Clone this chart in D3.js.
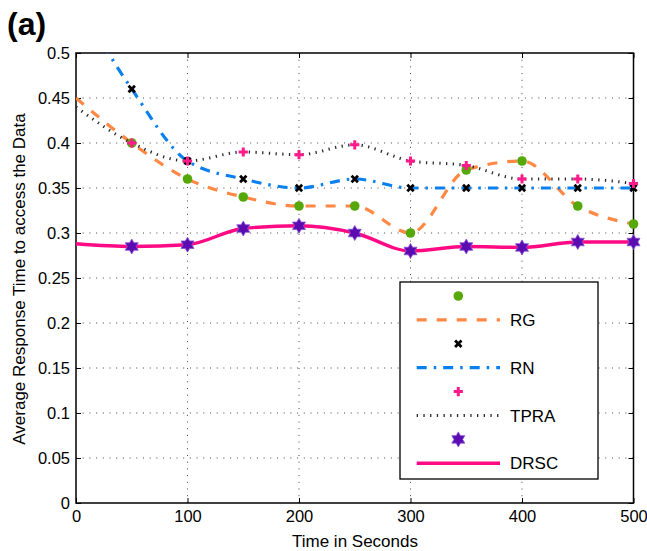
<!DOCTYPE html>
<html>
<head>
<meta charset="utf-8">
<script src="https://cdn.jsdelivr.net/npm/d3@7"></script>
<style>
  body { margin: 0; background: #fff; }
  svg text { font-family: "Liberation Sans", Arial, Helvetica, sans-serif; fill: #000; }
</style>
</head>
<body>
<script>
// data
let times = [0, 50, 100, 150, 200, 250, 300, 350, 400, 450, 500];
let rgValues = [0.45, 0.40, 0.36, 0.34, 0.33, 0.33, 0.30, 0.37, 0.38, 0.33, 0.31];
let rnValues = [0.56, 0.46, 0.38, 0.36, 0.35, 0.36, 0.35, 0.35, 0.35, 0.35, 0.35];
let tpraValues = [0.44, 0.40, 0.38, 0.39, 0.387, 0.398, 0.38, 0.375, 0.36, 0.36, 0.355];
let drscValues = [0.288, 0.285, 0.287, 0.305, 0.308, 0.30, 0.28, 0.285, 0.284, 0.29, 0.29];
let xTicks = [0, 100, 200, 300, 400, 500];
let yTicks = [0, 0.05, 0.1, 0.15, 0.2, 0.25, 0.3, 0.35, 0.4, 0.45, 0.5];
let seriesNames = ["RG", "RN", "TPRA", "DRSC"];

let width = 647, height = 551;
let plotLeft = 76, plotRight = 633.5, plotTop = 53, plotBottom = 503;

let svg = d3.select("body").append("svg")
    .attr("width", width)
    .attr("height", height);

let x = d3.scaleLinear().domain([0, 500]).range([plotLeft, plotRight]);
let y = d3.scaleLinear().domain([0, 0.5]).range([plotBottom, plotTop]);

svg.append("defs").append("clipPath")
    .attr("id", "plot-clip")
  .append("rect")
    .attr("x", plotLeft).attr("y", plotTop)
    .attr("width", plotRight - plotLeft).attr("height", plotBottom - plotTop);

// grid
let grid = svg.append("g").attr("class", "grid")
    .attr("stroke", "#444").attr("stroke-width", 1)
    .attr("stroke-dasharray", "1,5.7");
grid.selectAll("line.gx")
    .data(xTicks.slice(1, -1))
    .enter().append("line")
    .attr("x1", d => x(d)).attr("x2", d => x(d))
    .attr("y1", plotTop).attr("y2", plotBottom);
grid.selectAll("line.gy")
    .data(yTicks.slice(1, -1))
    .enter().append("line")
    .attr("y1", d => y(d)).attr("y2", d => y(d))
    .attr("x1", plotLeft).attr("x2", plotRight);

// axes (MATLAB style box, ticks pointing in)
let fmt = d => String(+d.toFixed(2));
svg.append("g")
    .attr("transform", "translate(0," + plotBottom + ")")
    .call(d3.axisBottom(x).tickValues(xTicks).tickSize(-5).tickPadding(7).tickFormat(d3.format("d")))
    .call(g => g.select(".domain").remove());
svg.append("g")
    .attr("transform", "translate(" + plotLeft + ",0)")
    .call(d3.axisLeft(y).tickValues(yTicks).tickSize(-5).tickPadding(6).tickFormat(fmt))
    .call(g => g.select(".domain").remove());
svg.append("g")
    .attr("transform", "translate(0," + plotTop + ")")
    .call(d3.axisTop(x).tickValues(xTicks).tickSize(-5).tickFormat(""))
    .call(g => g.select(".domain").remove());
svg.append("g")
    .attr("transform", "translate(" + plotRight + ",0)")
    .call(d3.axisRight(y).tickValues(yTicks).tickSize(-5).tickFormat(""))
    .call(g => g.select(".domain").remove());
svg.selectAll(".tick text").attr("font-size", 16.5).attr("font-family", "Liberation Sans, Arial, sans-serif");
svg.selectAll(".tick line").attr("stroke", "#000");

svg.append("rect")
    .attr("x", plotLeft).attr("y", plotTop)
    .attr("width", plotRight - plotLeft).attr("height", plotBottom - plotTop)
    .attr("fill", "none").attr("stroke", "#000").attr("stroke-width", 1.5);

// series
let styles = {
  RG:   {values: rgValues,   color: "#ff8844", width: 3.2, dash: "10,10"},
  RN:   {values: rnValues,   color: "#0a80f0", width: 3.2, dash: "10,7,2.5,7"},
  TPRA: {values: tpraValues, color: "#2a2a2a", width: 3,   dash: "1.3,5.4"},
  DRSC: {values: drscValues, color: "#ff0a84", width: 3.4, dash: null}
};

let line = d3.line()
    .x(d => x(d[0]))
    .y(d => y(d[1]))
    .curve(d3.curveMonotoneX);

let lines = svg.append("g").attr("clip-path", "url(#plot-clip)");
for (let name of seriesNames) {
  let s = styles[name];
  lines.append("path")
    .datum(times.map((t, i) => [t, s.values[i]]))
    .attr("fill", "none")
    .attr("stroke", s.color)
    .attr("stroke-width", s.width)
    .attr("stroke-dasharray", s.dash)
    .attr("d", line);
}

// marker shapes
function hexagram(R) {
  let r = R / Math.sqrt(3);
  let pts = [];
  for (let k = 0; k < 12; k++) {
    let a = -Math.PI / 2 + k * Math.PI / 6;
    let rr = k % 2 === 0 ? R : r;
    pts.push([rr * Math.cos(a), rr * Math.sin(a)]);
  }
  return "M" + pts.map(p => p[0].toFixed(2) + "," + p[1].toFixed(2)).join("L") + "Z";
}

function drawMarker(g, name, cx, cy) {
  if (name === "RG") {
    g.append("circle").attr("cx", cx).attr("cy", cy).attr("r", 4.8)
      .attr("fill", "#55a808");
  } else if (name === "RN") {
    let s = 3.2;
    g.append("path")
      .attr("d", "M" + (cx - s) + "," + (cy - s) + "L" + (cx + s) + "," + (cy + s) +
                 "M" + (cx - s) + "," + (cy + s) + "L" + (cx + s) + "," + (cy - s))
      .attr("stroke", "#000").attr("stroke-width", 2.8).attr("fill", "none");
  } else if (name === "TPRA") {
    let s = 4.6;
    g.append("path")
      .attr("d", "M" + (cx - s) + "," + cy + "L" + (cx + s) + "," + cy +
                 "M" + cx + "," + (cy - s) + "L" + cx + "," + (cy + s))
      .attr("stroke", "#ff1a8c").attr("stroke-width", 3).attr("fill", "none");
  } else {
    g.append("path")
      .attr("d", hexagram(7.5))
      .attr("transform", "translate(" + cx + "," + cy + ")")
      .attr("fill", "#5a0cb0").attr("stroke", "#8a50d8").attr("stroke-width", 0.8);
  }
}

let markers = svg.append("g");
for (let name of seriesNames) {
  let s = styles[name];
  times.forEach((t, i) => {
    if (t === 0) return;
    drawMarker(markers, name, x(t), y(s.values[i]));
  });
}

// legend
let lx = 400, ly = 282, step = 23.9;
let legend = svg.append("g");
legend.append("rect")
    .attr("x", lx).attr("y", ly)
    .attr("width", 198).attr("height", 197)
    .attr("fill", "#fff").attr("stroke", "#000").attr("stroke-width", 1.3);
seriesNames.forEach((name, i) => {
  let s = styles[name];
  let my = ly + 14 + i * 2 * step;
  let lyy = my + step;
  drawMarker(legend, name, lx + 58.3, my);
  legend.append("line")
    .attr("x1", lx + 16.7).attr("x2", lx + 100)
    .attr("y1", lyy).attr("y2", lyy)
    .attr("stroke", s.color)
    .attr("stroke-width", s.width)
    .attr("stroke-dasharray", s.dash);
  legend.append("text")
    .attr("x", lx + 110).attr("y", lyy + 6)
    .attr("font-size", 17)
    .text(name);
});

// labels
svg.append("text")
    .attr("x", 355).attr("y", 546.5)
    .attr("text-anchor", "middle")
    .attr("font-size", 17)
    .text("Time in Seconds");

svg.append("text")
    .attr("transform", "translate(25,279) rotate(-90)")
    .attr("text-anchor", "middle")
    .attr("font-size", 17)
    .text("Average Response Time to access the Data");

svg.append("text")
    .attr("x", 7).attr("y", 35)
    .attr("font-size", 32)
    .attr("font-weight", "bold")
    .text("(a)");
</script>
</body>
</html>
